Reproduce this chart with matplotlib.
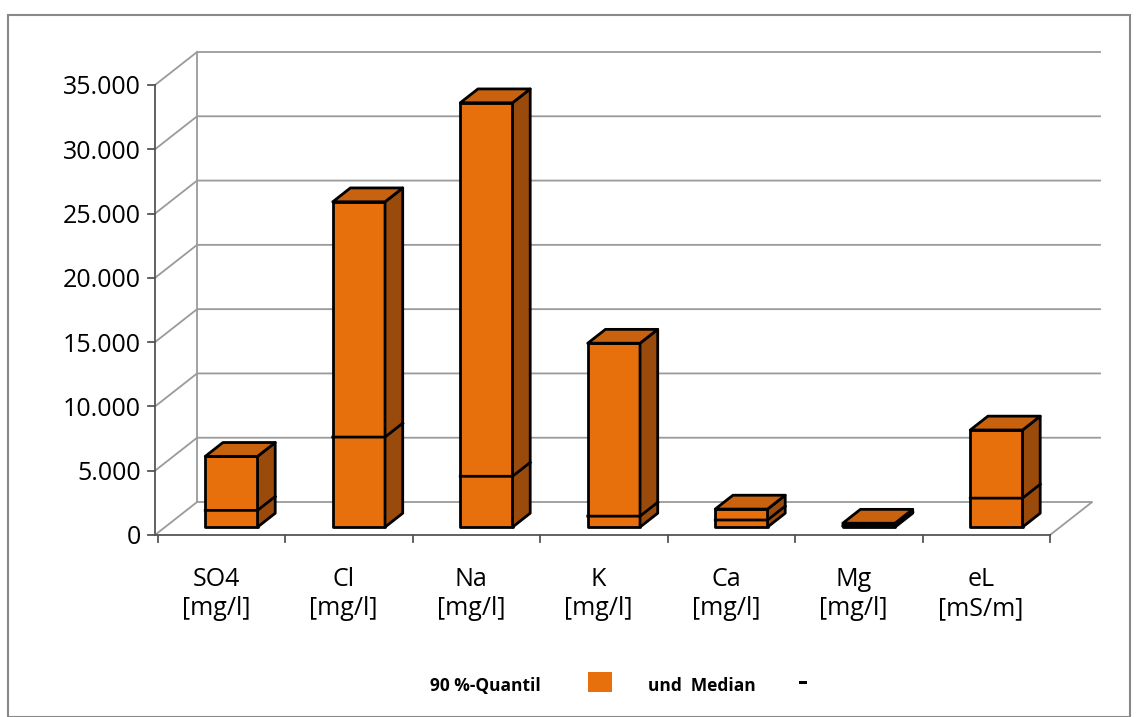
import matplotlib.pyplot as plt
from matplotlib.patches import Polygon, Rectangle

# data
categories = ["SO4\n[mg/l]", "Cl\n[mg/l]", "Na\n[mg/l]", "K\n[mg/l]", "Ca\n[mg/l]", "Mg\n[mg/l]", "eL\n[mS/m]"]
quantil90 = [5500, 25300, 33000, 14300, 1400, 300, 7550]
median = [1300, 7000, 3950, 850, 550, 100, 2250]
yticks = list(range(0, 35001, 5000))
yticklabels = ["0", "5.000", "10.000", "15.000", "20.000", "25.000", "30.000", "35.000"]

FRONT = "#E8700C"
SIDE = "#9A4A0A"
TOP = "#C8620E"

# pseudo-3D depth offsets (in data units)
DX, DY = 0.33, 2566
X0, X1 = -0.52, 6.5
Z0, Z1 = 0.24, 0.66
HW = 0.205


def proj(x, y, z):
    return (x + z * DX, y + z * DY)


fig = plt.figure(figsize=(11.4, 7.17), dpi=100)
plt.rcParams['font.family'] = ['Open Sans', 'DejaVu Sans']
fig.patches.append(Rectangle((8 / 1140, 0), 1122 / 1140, 702 / 717, transform=fig.transFigure,
                             fill=False, edgecolor="#888888", lw=1.5))
ax = fig.add_axes([155 / 1140, (717 - 535) / 717, (1100 - 155) / 1140, (535 - 52) / 717])
ax.set_xlim(X0, X0 + (1100 - 155) / 127.5)
ax.set_ylim(0, 35000 + DY)
for s in ax.spines.values():
    s.set_visible(False)
ax.set_xticks([])
ax.set_yticks(yticks)
ax.set_yticklabels(yticklabels, fontsize=18)
ax.tick_params(axis="y", length=0, pad=10)

gc = "#9a9a9a"
XE = X0 + (1100 - 155) / 127.5 - DX
# walls / grid
for v in yticks[1:]:
    a, b = proj(X0, v, 0), proj(X0, v, 1)
    c = proj(XE, v, 1)
    ax.plot([a[0], b[0], c[0]], [a[1], b[1], c[1]], color=gc, lw=1.3, clip_on=False)
# back wall left edge and floor
b0, b1 = proj(X0, 0, 1), proj(X0, 35000, 1)
ax.plot([b0[0], b1[0]], [b0[1], b1[1]], color=gc, lw=1.3, clip_on=False)
f1, f2 = proj(X1, 0, 0), proj(X1, 0, 1)
ax.plot([b0[0], f2[0], f1[0]], [b0[1], f2[1], f1[1]], color=gc, lw=1.3, clip_on=False)
ax.plot([X0, b0[0]], [0, b0[1]], color=gc, lw=1.3, clip_on=False)
# front axes
ax.plot([X0, X0], [0, 35000], color="#555555", lw=1.3, clip_on=False)
ax.plot([X0, X1], [0, 0], color="#555555", lw=1.3, clip_on=False)
for v in yticks:
    ax.plot([X0 - 0.055, X0], [v, v], color="#555555", lw=1.3, clip_on=False)
for i in range(len(categories) + 1):
    ax.plot([i - 0.5, i - 0.5], [0, -550], color="#555555", lw=1.3, clip_on=False)

# bars
for i, (q, m) in enumerate(zip(quantil90, median)):
    l, r = i - HW, i + HW
    front = [proj(l, 0, Z0), proj(r, 0, Z0), proj(r, q, Z0), proj(l, q, Z0)]
    side = [proj(r, 0, Z0), proj(r, 0, Z1), proj(r, q, Z1), proj(r, q, Z0)]
    top = [proj(l, q, Z0), proj(r, q, Z0), proj(r, q, Z1), proj(l, q, Z1)]
    for pts, col in ((front, FRONT), (side, SIDE), (top, TOP)):
        ax.add_patch(Polygon(pts, closed=True, facecolor=col, edgecolor="black", lw=2,
                             joinstyle="round", clip_on=False, zorder=3))
    mp = [proj(l, m, Z0), proj(r, m, Z0), proj(r, m, Z1)]
    ax.plot([p[0] for p in mp], [p[1] for p in mp], color="black", lw=2, zorder=4, clip_on=False)
    ax.text(i + Z0 * DX - 0.12, -2500, categories[i], ha="center", va="top", fontsize=18,
            linespacing=1.2)

# legend
fig.text(430 / 1140, 1 - 686 / 717, "90 %-Quantil", fontsize=12.5, fontweight="bold", va="center")
fig.patches.append(Rectangle((588 / 1140, 1 - 692 / 717), 24 / 1140, 20 / 717,
                             transform=fig.transFigure, facecolor=FRONT, edgecolor="none"))
fig.text(648 / 1140, 1 - 686 / 717, "und  Median", fontsize=12.5, fontweight="bold", va="center")
fig.patches.append(Rectangle((799 / 1140, 1 - 684 / 717), 8 / 1140, 3 / 717,
                             transform=fig.transFigure, facecolor="black", edgecolor="none"))

fig.savefig("out.png", dpi=100)
